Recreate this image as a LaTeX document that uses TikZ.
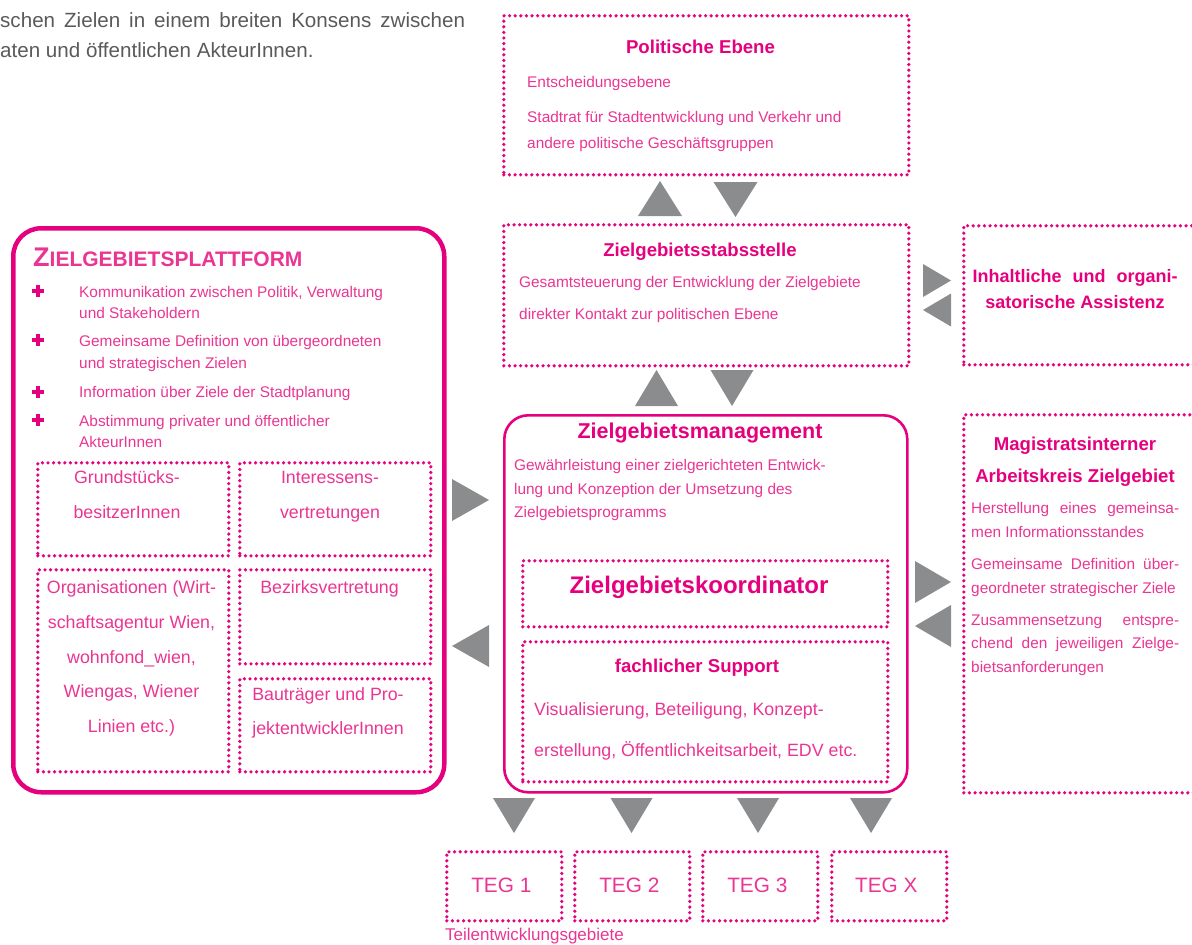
\documentclass[tikz,border=0pt]{standalone}
\usepackage{fontspec}
\setmainfont{Liberation Sans}
\usepackage{tikz}
\usetikzlibrary{positioning}
\definecolor{zgpink}{HTML}{E5007D}
\definecolor{zgtext}{HTML}{EA3592}
\definecolor{arrowgray}{HTML}{8B8C8E}
\definecolor{introgray}{HTML}{5A5A5A}

\newcommand{\fsz}[1]{\fontsize{#1}{#1}\selectfont}
\newcommand{\jline}[2]{\makebox[#1pt][s]{#2}}

\tikzset{
  dotbox/.style={draw=zgpink,line width=3.6pt,dash pattern=on 0pt off 5.6pt,line cap=round,inner sep=0pt,anchor=north west},
  roundbox/.style={draw=zgpink,inner sep=0pt,anchor=north west},
  ptext/.style={text=zgtext,inner sep=0pt,anchor=base west,font=\fsz{15.4}},
  ctext/.style={text=zgtext,inner sep=0pt,anchor=base,font=\fsz{17.8}},
  ptitle/.style={text=zgpink,inner sep=0pt,anchor=base,font=\bfseries\fsz{18.6}},
  tri down/.pic={\fill[arrowgray] (-1,-1) -- (1,-1) -- (0,1) -- cycle;},
  tri up/.pic={\fill[arrowgray] (-1,1) -- (1,1) -- (0,-1) -- cycle;},
  tri right/.pic={\fill[arrowgray] (-1,-1) -- (-1,1) -- (1,0) -- cycle;},
  tri left/.pic={\fill[arrowgray] (1,-1) -- (1,1) -- (-1,0) -- cycle;}
}

\begin{document}
\begin{tikzpicture}[x=1pt,y=-1pt,line join=round]
\useasboundingbox (0,0) rectangle (1192,945);
\clip (0,0) rectangle (1192,945);

% text above, cut off at the left
\node[text=introgray,inner sep=0pt,anchor=base west,font=\fsz{20.6}] (intro-1) at (0,27) {\jline{465}{schen Zielen in einem breiten Konsens zwischen}};
\node[text=introgray,inner sep=0pt,anchor=base west,font=\fsz{20.6}] (intro-2) at (0,57) {aten und öffentlichen AkteurInnen.};

% politische Ebene
\node[dotbox,minimum width=405pt,minimum height=159pt] (polit) at (502,14) {};
\node[ptitle] (polit-title) at (700.5,53) {Politische Ebene};
\foreach \yy/\txt [count=\i] in {87/Entscheidungsebene,122/Stadtrat für Stadtentwicklung und Verkehr und,148/andere politische Geschäftsgruppen}
  \node[ptext] (polit-\i) at (527,\yy) {\txt};

% Stabsstelle
\node[dotbox,minimum width=405pt,minimum height=141pt] (stab) at (502,223) {};
\node[ptitle] (stab-title) at (700,256) {Zielgebietsstabsstelle};
\node[ptext] (stab-1) at (519,287) {Gesamtsteuerung der Entwicklung der Zielgebiete};
\node[ptext] (stab-2) at (519,319) {direkter Kontakt zur politischen Ebene};

% Assistenz
\node[dotbox,minimum width=260pt,minimum height=139pt] (assist) at (962,224) {};
\node[ptitle,font=\bfseries\fsz{18}] (assist-1) at (1075,282) {\jline{205}{Inhaltliche und organi-}};
\node[ptitle,font=\bfseries\fsz{18}] (assist-2) at (1075,308) {satorische Assistenz};

% Zielgebietsplattform
\node[roundbox,line width=4.5pt,rounded corners=28pt,minimum width=431pt,minimum height=564pt] (platt) at (11,226) {};
\node[text=zgtext,inner sep=0pt,anchor=base west,font=\bfseries] (platt-title) at (33,266) {\fsz{27}Z\fsz{21}IELGEBIETSPLATTFORM};
\foreach \yy in {291,340,392,420}
  \draw[zgpink,line width=4pt] (31.5,\yy) -- (43.5,\yy) (37.5,\yy-6) -- (37.5,\yy+6);
\foreach \yy/\txt [count=\i] in {297/{Kommunikation zwischen Politik, Verwaltung},318/und Stakeholdern,346/Gemeinsame Definition von übergeordneten,368/und strategischen Zielen,397/Information über Ziele der Stadtplanung,426/Abstimmung privater und öffentlicher,447/AkteurInnen}
  \node[ptext] (platt-\i) at (79,\yy) {\txt};

\node[dotbox,minimum width=191pt,minimum height=93pt] (grund) at (36,461) {};
\node[dotbox,minimum width=191pt,minimum height=93pt] (inter) at (238,461) {};
\node[dotbox,minimum width=191pt,minimum height=202pt] (orga) at (36,568) {};
\node[dotbox,minimum width=191pt,minimum height=94pt] (bezirk) at (238,568) {};
\node[dotbox,minimum width=191pt,minimum height=93pt] (bautr) at (238,677) {};
\node[ctext] (grund-1) at (127,483) {Grundstücks-};
\node[ctext] (grund-2) at (127,518) {besitzerInnen};
\node[ctext] (inter-1) at (330,483) {Interessens-};
\node[ctext] (inter-2) at (330,518) {vertretungen};
\foreach \yy/\txt [count=\i] in {593/Organisationen (Wirt-,628/{schaftsagentur Wien,},663/{wohnfond\_wien,},697/{Wiengas, Wiener},732/Linien etc.)}
  \node[ctext] (orga-\i) at (131.5,\yy) {\txt};
\node[ctext] (bezirk-1) at (329.5,593) {Bezirksvertretung};
\node[ctext] (bautr-1) at (328,700) {Bauträger und Pro-};
\node[ctext] (bautr-2) at (328,734) {jektentwicklerInnen};

% Zielgebietsmanagement
\node[roundbox,line width=2.6pt,rounded corners=24pt,minimum width=403pt,minimum height=377pt] (mgmt) at (503,414) {};
\node[ptitle,font=\bfseries\fsz{21.5}] (mgmt-title) at (700,438) {Zielgebietsmanagement};
\foreach \yy/\txt [count=\i] in {470/Gewährleistung einer zielgerichteten Entwick-,494/lung und Konzeption der Umsetzung des,517/Zielgebietsprogramms}
  \node[ptext] (mgmt-\i) at (514,\yy) {\txt};
\node[dotbox,minimum width=365pt,minimum height=66pt] (koord) at (521,559) {};
\node[ptitle,font=\bfseries\fsz{24}] (koord-title) at (699,593) {Zielgebietskoordinator};
\node[dotbox,minimum width=365pt,minimum height=140pt] (support) at (521,640) {};
\node[ptitle] (support-title) at (697,672) {fachlicher Support};
\node[ptext,font=\fsz{17.8}] (support-1) at (534,715) {Visualisierung, Beteiligung, Konzept-};
\node[ptext,font=\fsz{17.8}] (support-2) at (534,756) {erstellung, Öffentlichkeitsarbeit, EDV etc.};

% Arbeitskreis
\node[dotbox,minimum width=260pt,minimum height=378pt] (akreis) at (962,413) {};
\node[ptitle] (akreis-title1) at (1075,450) {Magistratsinterner};
\node[ptitle] (akreis-title2) at (1075,482) {Arbeitskreis Zielgebiet};
\foreach \yy/\txt [count=\i] in {513/{\jline{208}{Herstellung eines gemeinsa-}},537/men Informationsstandes,569/{\jline{208}{Gemeinsame Definition über-}},593/geordneter strategischer Ziele,625/{\jline{208}{Zusammensetzung entspre-}},648/{\jline{208}{chend den jeweiligen Zielge-}},672/bietsanforderungen}
  \node[ptext] (akreis-\i) at (971,\yy) {\txt};

% Teilentwicklungsgebiete
\foreach \xx/\txt [count=\i] in {445/TEG 1,573/TEG 2,701/TEG 3,830/TEG X}{
  \node[dotbox,minimum width=115pt,minimum height=69pt] (teg-\i) at (\xx,850) {};
  \node[text=zgtext,inner sep=0pt,anchor=base,font=\fsz{20.8}] (teg-\i-label) at ([xshift=-3pt]teg-\i.center |- 0,892) {\txt};
}
\node[ptext,font=\fsz{17}] (teg-caption) at (445,940) {Teilentwicklungsgebiete};

% grey triangles
\pic[xscale=22,yscale=17.5] at (660,198.5) {tri up};
\pic[xscale=22,yscale=17.5] at (735.5,199.5) {tri down};
\pic[xscale=21.5,yscale=18] at (656.5,388) {tri up};
\pic[xscale=21.5,yscale=18] at (732,388) {tri down};
\pic[xscale=18.5,yscale=21] at (470.5,500) {tri right};
\pic[xscale=18.5,yscale=21] at (470.5,646) {tri left};
\pic[xscale=14,yscale=16.5] at (937,280.5) {tri right};
\pic[xscale=14,yscale=16.5] at (937,310) {tri left};
\pic[xscale=18,yscale=21] at (933,582) {tri right};
\pic[xscale=18,yscale=21] at (933,626) {tri left};
\foreach \xx in {514,631.5,758,871}
  \pic[xscale=21,yscale=17.5] at (\xx,815.5) {tri down};
\end{tikzpicture}
\end{document}
